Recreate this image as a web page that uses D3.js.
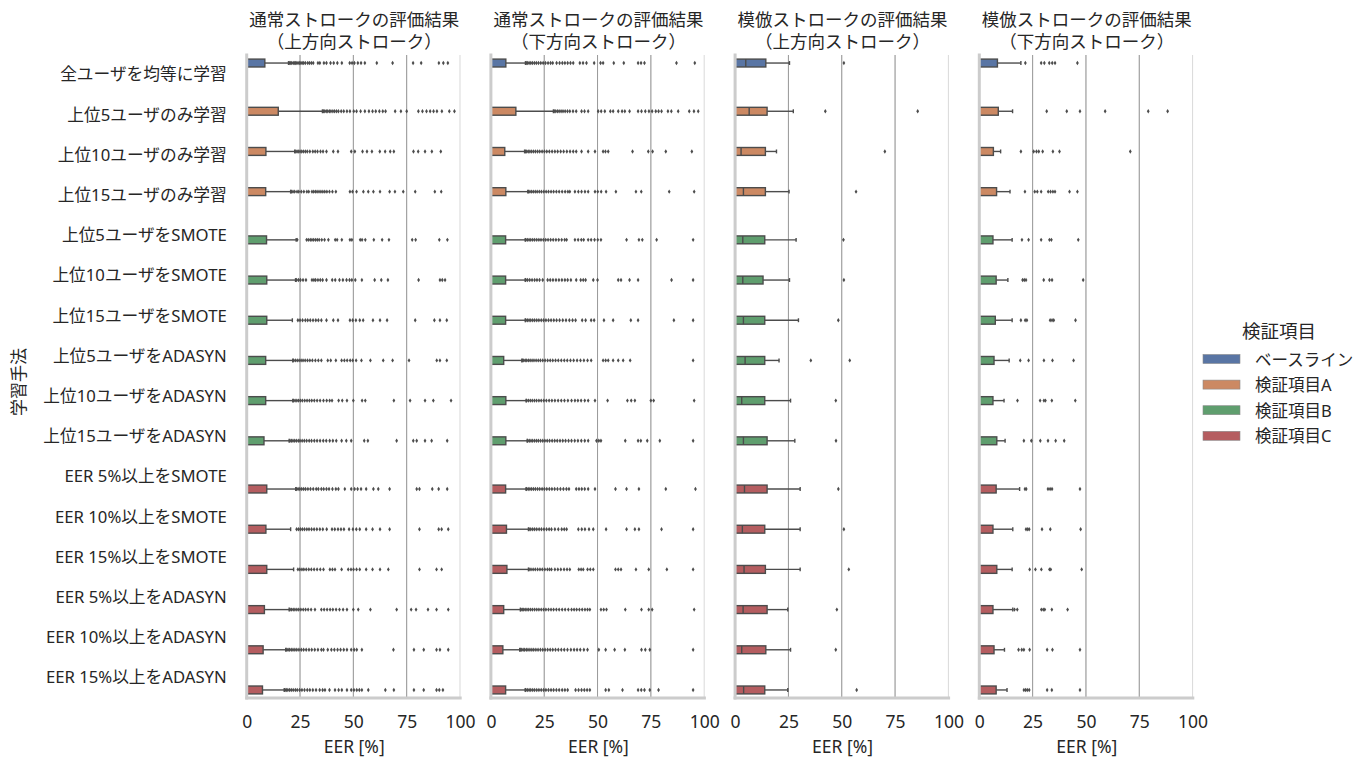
<!DOCTYPE html>
<html><head><meta charset="utf-8">
<script src="https://cdn.jsdelivr.net/npm/d3@7"></script>
<style>
body{margin:0;background:#fff}
svg{display:block}
text{font-family:"Noto Sans","Noto Sans CJK JP",sans-serif;fill:#262626}
</style>
</head><body>
<svg id="c" width="1361" height="758"></svg>
<script>
const categories = ["全ユーザを均等に学習","上位5ユーザのみ学習","上位10ユーザのみ学習","上位15ユーザのみ学習",
  "上位5ユーザをSMOTE","上位10ユーザをSMOTE","上位15ユーザをSMOTE","上位5ユーザをADASYN","上位10ユーザをADASYN","上位15ユーザをADASYN",
  "EER 5%以上をSMOTE","EER 10%以上をSMOTE","EER 15%以上をSMOTE","EER 5%以上をADASYN","EER 10%以上をADASYN","EER 15%以上をADASYN"];
const hues = ["ベースライン","検証項目A","検証項目B","検証項目C"];
const rowHue = ["ベースライン","検証項目A","検証項目A","検証項目A","検証項目B","検証項目B","検証項目B","検証項目B","検証項目B","検証項目B",
  "検証項目C","検証項目C","検証項目C","検証項目C","検証項目C","検証項目C"];
const hueColors = ["#5975a4","#cc8963","#5f9e6e","#b55d60"];
const panelTitles = [["通常ストロークの評価結果","（上方向ストローク）"],["通常ストロークの評価結果","（下方向ストローク）"],
  ["模倣ストロークの評価結果","（上方向ストローク）"],["模倣ストロークの評価結果","（下方向ストローク）"]];
const xTicks = [0,25,50,75,100];
const xLabel = "EER [%]";
const yLabel = "学習手法";
const legendTitle = "検証項目";

// Panel 1: 通常 上方向
const p1Q1 = [0,0,0,0,0,0,0,0,0,0,0,0,0,0,0,0];
const p1Med = [0,0,0,0,0,0,0,0,0,0,0,0,0,0,0,0];
const p1Q3 = [8.5,14.8,9,8.9,9.3,9.4,9.4,8.9,8.9,8.1,9.4,9,9.4,8.3,7.7,7.4];
const p1Whi = [19.6,35.5,22.5,20.6,23.2,22.9,21.4,21.6,21.6,19.9,23,20.6,22,19.9,18.3,17.6];
const p1Out = [
 [20,20.6,21.1,21.8,22.3,22.9,23.5,24.1,24.8,25.4,26,26.7,27.5,28.6,29.4,30.3,31.2,33.4,34.3,36.2,37.4,39.3,40.8,42.5,44.6,48.3,49.4,50.5,52.1,53.6,55.4,61,68.4,78,81.8,90.1,92.2,94.3],
 [36,36.6,37.3,38,38.8,39.5,40.4,41.2,42.1,43,44.3,45.5,47,48.4,50.2,51.5,53.4,55.4,57.3,59,60.5,62.2,63.8,65.1,69.6,72.3,75,80.5,82.4,84.3,86,87.6,89.2,91.5,95,97.4],
 [23,23.6,24.2,25,25.8,26.6,27.5,28.4,29.6,31,32.1,33.2,34.6,35.8,37.4,40.6,42.8,49,50.7,54.3,56.4,58.7,62.4,64.9,67.3,69,78.2,80.4,83.6,86.8,91],
 [21,21.7,22.5,23.6,24.4,25.6,26.8,28.2,29.1,30.6,31.4,32.2,33,33.9,34.8,35.7,36.6,37.6,38.8,40.2,41.8,48.4,49.6,51.5,54.7,57,59.4,62.5,67,69.5,73.4,79,88.2,91.2],
 [23.7,28.1,28.9,29.8,30.6,31.4,32.3,33.1,34,35.2,36.5,38.3,41.5,42.4,44.6,48.4,49.3,53.2,54.1,55.6,59.6,63.5,66.7,77.6,79.2,90.3,94.1],
 [23.4,24.3,25.2,26.4,27.8,30.6,31.5,32.3,33.4,34.5,35.6,37.4,40.1,41.5,43.5,45.1,46.8,48.2,49.3,50.9,54,60,63.1,66.2,80.6,90.6,91.7,93],
 [24,25,26.2,27.5,28.6,29.8,31.1,32.4,33.6,35,37.4,40.6,42.8,48.4,49.7,51.2,53,54.6,59.2,62.5,65.8,79,88,90.6,93.8],
 [22,22.8,23.7,24.6,25.5,26.4,27.4,28.5,29.6,30.8,32.2,33.6,35,38,39.4,41.8,44.5,45.8,47.1,48.5,49.7,51.3,53.8,58,64,68.4,76.1,89.1,90.6,93.8],
 [22,22.7,23.5,24.3,25.2,26.1,27.2,28.3,29.4,30.5,31.7,33,34.4,36,37.5,38.9,40,43.1,44.8,47,50,54.1,55.6,69,76.6,83.6,87.5,95.8],
 [20.3,21,21.7,22.5,23.3,24.2,25,26,27,28.1,29.3,30.4,31.7,33,34.4,35.9,37.3,38.9,40.4,42,44.5,46.7,49,55.1,56.8,70.3,78.1,79.7,83.6,86.7,94],
 [23.4,24.1,24.9,25.8,26.7,27.6,28.7,29.9,31.2,32.6,33.6,35,36.1,37.4,38.6,40.2,41.8,43,46,49,50.6,52,53.6,56,59.4,61.7,67,79.7,81,87,90,94],
 [23.4,24.3,25.2,26.1,27.1,28.2,29.2,30.4,31.6,32.9,34.3,35.7,37.5,40,41.3,42.8,44.2,45.6,48,49.8,51.4,53,56,59,62.5,67,81,90,91.4,94.5],
 [24,24.9,25.9,26.8,27.9,29.1,30.3,31.6,33,34.5,36,39,40.2,41.4,44.5,47.6,48.9,50.1,51.5,53,56,59,62.5,66.4,81,89,91.4],
 [20.3,21,21.8,22.6,23.5,24.4,25.4,26.5,27.6,28.8,30.2,32,35,36.3,37.7,39.1,40.4,41.9,43.5,45.2,47,50,52.3,58,70.3,77.1,79.4,85,89,94.5],
 [18.8,19.4,20.1,20.9,21.7,22.6,23.5,24.5,25.6,26.7,27.9,29.2,30.5,31.9,33.4,35,36,38,39.7,41.1,42.6,44,45.5,47,49,50.4,51.6,54,68.8,78.4,83,89,90.6,94.5],
 [18,18.6,19.3,20.1,20.9,21.8,22.8,23.7,24.8,25.9,27.1,28.4,29.6,31,32.5,34.2,35.6,36.7,38.8,41.4,43.1,44.6,47,49,50.3,51.6,52.8,54,57,65,69,78.4,83,89,90.3,92]
];

// Panel 2: 通常 下方向
const p2Q1 = [0,0,0,0,0,0,0,0,0,0,0,0,0,0,0,0];
const p2Med = [0,0,0,0,0,0,0,0,0,0,0,0,0,0,0,0];
const p2Q3 = [7,11.7,6.5,7,6.9,6.9,6.9,6,7,7,6.9,7.3,7.5,6,5.6,6.9];
const p2Whi = [16.2,29.3,15.8,17.3,16.1,16.1,16.1,14.5,16.5,17,16.5,17.6,17.6,13.8,13.5,16.1];
const p2Out = [
 [16.6,17.2,17.9,18.7,19.5,20.4,21.3,22.3,23.4,24.5,25.6,26.8,28,29,30.8,32.2,33.5,34.7,36,37.3,38.6,41.7,43.2,44.8,48.4,51.4,52.6,57.6,62.3,69,70.4,72,87,95.6],
 [29.7,30.4,31.2,32,32.9,33.8,34.8,35.9,37,38.5,40,42.5,43.9,45.6,50.3,51.7,53.4,56,57.3,59.7,61.5,62.8,65,69,70.6,72.4,74.1,75.6,77.3,78.6,80,83,84.6,87.8,93,95.2,97.2],
 [16.2,16.8,17.5,18.3,19.1,20,20.9,21.9,22.9,24,25.1,26.2,27.4,28.7,30,31.3,32.7,34.1,35.6,37.1,38.6,40,42.5,45.6,48.8,52.6,53.7,55,66.4,73.8,75.8,82,94.2],
 [17.6,18.3,19.1,19.9,20.8,21.7,22.7,23.7,24.8,25.9,27,28.2,29.4,30.7,32,33.4,34.8,36.1,37,39.4,41,42.5,44.1,45.6,48.8,50.1,51.7,54,58.6,68,70.5,83.6,95.3],
 [16.4,17.1,17.9,18.7,19.6,20.5,21.5,22.5,23.5,24.6,25.7,26.8,28,29.2,30.5,31.8,33.2,34.6,35.5,39.4,40.9,42.4,43.5,45.6,47,48.6,50.1,51.6,63.6,69.4,71,77.7,94.8],
 [16.4,17.2,18.2,19.3,20.5,21.6,22.8,24.3,26.6,27.8,29.1,30.5,31.9,33.3,34.7,36,37.5,40,42.1,43.3,44.4,48,50,59.7,61,65,69,84.7,94.8],
 [16.4,17.1,17.9,18.7,19.6,20.5,21.5,22.5,23.6,24.7,25.8,27,28.2,29.5,30.8,32.2,33.7,35.2,36.8,38.3,39.7,42.8,44.4,47,48.4,53,57.3,65.6,69,85.8,94.8],
 [14.8,15.4,16.1,16.8,17.6,18.4,19.3,20.2,21.2,22.2,23.2,24.3,25.4,26.6,27.8,29,30.3,31.6,33,34.4,35.8,37.3,38.8,40.4,42,43.6,45.3,47,52.6,53.8,55,57.3,59.7,62,65.3,94.8],
 [16.8,17.6,18.5,19.4,20.4,21.4,22.5,23.6,24.8,26,27.3,28.6,30,31.5,33,34.5,36.1,37.8,39.4,40.8,42.3,44,45.6,48.8,54.7,64,65.8,67.5,75,76.3,95.3],
 [17.3,18,18.8,19.6,20.5,21.4,22.3,23.3,24.3,25.3,26.4,27.5,28.7,29.9,31.1,32.4,33.7,35,36.4,37.8,39.3,40.8,42.4,44,45.6,49.5,50.6,51.6,63,69,70.3,73.3,79.2,94.8],
 [16.8,17.5,18.3,19.1,20,20.9,21.9,22.9,24,25.1,26.2,27.4,28.6,29.9,31.2,32.6,34,35.4,36.6,40,41.3,42.6,44,45.6,48.8,58.4,63.6,69.4,82,95.9],
 [17.9,18.7,19.6,20.5,21.5,22.6,23.7,24.9,26.1,27.3,28.4,30,31.6,33.2,34.4,35.5,41,42.6,44.1,46,48,54,63.6,67.5,69.4,80,94.8],
 [17.9,18.8,19.8,20.8,21.9,23,24.1,25.3,26.5,27.5,28.4,30,31.4,32.8,34.3,35.7,37,41.2,42.3,43.3,45.3,46.6,48,58.4,59.7,61,68,74,82.5,94.8],
 [14.1,14.7,15.4,16.1,16.9,17.7,18.6,19.5,20.5,21.5,22.5,23.6,24.7,25.8,27,28.2,29.4,30.7,32,33.4,34.8,36.3,37.8,39,40.2,41.5,42.8,44.1,45.3,46.4,51.6,52.9,54.2,63,70.6,74,75.6,95.3],
 [13.8,14.4,15.1,15.8,16.6,17.4,18.3,19.2,20.1,21.1,22.1,23.2,24.3,25.4,26.6,27.8,29,30.3,31.6,33,34.4,35.9,37.5,39,40.4,41.9,43.6,45.3,50.6,53.8,58,62.8,70.6,72.4,74.5,94.8],
 [16.4,17.1,17.9,18.7,19.6,20.5,21.5,22.5,23.6,24.7,25.8,27,28.2,29.4,30.7,32,33.4,34.7,36,39.7,41.1,42.5,43.8,45.1,46.4,53.8,55.3,61.7,69,70.5,72,74.5,78.6,94.8]
];

// Panel 3: 模倣 上方向
const p3Q1 = [0,0,0,0,0,0,0,0,0,0,0,0,0,0,0,0];
const p3Med = [5,6.6,2.8,3.9,3.6,3.6,3.9,4.7,3.1,3.9,4.4,3.4,4.2,3.75,3.1,4];
const p3Q3 = [14.4,15,14.2,14.2,13.9,13.1,13.9,13.9,13.9,15,15,13.9,14.2,15,14.4,13.9];
const p3Whi = [25.5,27.3,19.4,25.3,28.6,25.5,29.7,20.6,26,28,30.5,30.5,30.5,24.7,26,24.7];
const p3Out = [[51],[42.3,85.6],[70.2],[56.7],[50.8],[51],[48.4],[35.5,53.75],[47.2],[47.3],[48.4],[51],[53.3],[47.7],[47.2],[57]];

// Panel 4: 模倣 下方向
const p4Q1 = [0,0,0,0,0,0,0,0,0,0,0,0,0,0,0,0];
const p4Med = [0,0,0,0,0,0,0,0,0,0,0,0,0,0,0,0];
const p4Q3 = [8.5,8.9,6.6,8.1,6.4,7.9,7.5,6.9,6.4,8.2,7.9,6.4,8.2,6.4,6.9,7.9];
const p4Whi = [19.5,15.6,10,14.4,15.4,13.4,15.4,14,11.6,12.1,18.9,15.7,15.4,15.7,11.8,13];
const p4Out = [
 [21.6,29,30.5,32.8,34.2,35.5,46],
 [31.6,41,47.2,59,79.2,88.3],
 [19.5,25.5,26.8,27.9,29.7,34.5,37.6,70.8],
 [21.4,26,27.2,29,32.3,33.4,34.5,35.5,42.3,46],
 [20,23.1,29,32.9,33.8,46.4],
 [20.3,21.1,21.9,30.2,32.9,34.1,48.7],
 [19.5,21.5,22.3,33.2,34.1,34.9,45.1],
 [19.2,23.1,30.3,34.3,44.2],
 [17.9,28.5,30.3,31,34,45],
 [20.9,24.4,28.6,32.2,35.8,39.8],
 [21.4,22,32.2,33.2,34.1,47.2],
 [21.9,22.7,23.4,29.4,33.3,47.5],
 [23.6,26.3,29.1,32.9,33.5,48],
 [16.5,17.8,29.1,30,30.7,34,41.4],
 [18.4,19.9,20.9,23.6,31.8,34.3,47.2],
 [20.9,21.7,22.5,23.4,31.8,34,47.2]
];

const panels = [
 {q1:p1Q1, med:p1Med, q3:p1Q3, whi:p1Whi, out:p1Out},
 {q1:p2Q1, med:p2Med, q3:p2Q3, whi:p2Whi, out:p2Out},
 {q1:p3Q1, med:p3Med, q3:p3Q3, whi:p3Whi, out:p3Out},
 {q1:p4Q1, med:p4Med, q3:p4Q3, whi:p4Whi, out:p4Out}
];

const FONT = '"Noto Sans","Noto Sans CJK JP",sans-serif';
const svg = d3.select("#c");
const plotTop = 55, plotBottom = 698;
const zeroX0 = 246.7, panelStep = 244.2, panelW = 215;
const edge = "#4c4c4c";
const color = d3.scaleOrdinal().domain(hues).range(hueColors);
const y = d3.scaleBand().domain(categories).range([plotTop, plotBottom]).paddingInner(0).paddingOuter(0);
const yh = d3.scaleBand().domain(hues).range([-0.4*y.step(), 0.4*y.step()]);
const bh = yh.bandwidth()*0.98;

panels.forEach((p, pi) => {
  const g = svg.append("g").attr("transform", `translate(${zeroX0 + pi*panelStep},0)`);
  const x = d3.scaleLinear().domain([0, 100.8]).range([0, panelW]);

  // grid
  g.append("g").selectAll("line").data(xTicks).join("line")
    .attr("x1", d => x(d)).attr("x2", d => x(d)).attr("y1", plotTop).attr("y2", plotBottom)
    .attr("stroke", "#d9d9d9").attr("stroke-width", 1);
  g.append("g").selectAll("line").data(xTicks.filter(d => d > 0 && d < 100)).join("line")
    .attr("x1", d => x(d)).attr("x2", d => x(d)).attr("y1", plotTop).attr("y2", plotBottom)
    .attr("stroke", "#9a9a9a").attr("stroke-width", 1);

  const rows = categories.map((c, i) => ({c, i, hue: rowHue[i]}));
  const rg = g.append("g").selectAll("g").data(rows).join("g")
    .attr("transform", d => `translate(0,${y(d.c) + y.bandwidth()/2 + yh(d.hue) + yh.bandwidth()/2})`);

  // whiskers
  rg.append("line").attr("x1", d => x(p.q3[d.i])).attr("x2", d => x(p.whi[d.i])).attr("y1", 0).attr("y2", 0)
    .attr("stroke", edge).attr("stroke-width", 1.4);
  rg.append("line").attr("x1", d => x(p.whi[d.i])).attr("x2", d => x(p.whi[d.i])).attr("y1", -bh/4).attr("y2", bh/4)
    .attr("stroke", edge).attr("stroke-width", 1.4);
  // box
  rg.append("rect").attr("x", d => x(p.q1[d.i])).attr("width", d => x(p.q3[d.i]) - x(p.q1[d.i]))
    .attr("y", -bh/2).attr("height", bh)
    .attr("fill", d => color(d.hue)).attr("stroke", edge).attr("stroke-width", 1.4);
  // median
  rg.append("line").attr("x1", d => x(p.med[d.i])).attr("x2", d => x(p.med[d.i])).attr("y1", -bh/2).attr("y2", bh/2)
    .attr("stroke", edge).attr("stroke-width", 1.4);
  // fliers
  rg.selectAll("path.f").data(d => p.out[d.i]).join("path").attr("class", "f")
    .attr("d", d => `M${x(d)},-2.2L${x(d)+1.4},0L${x(d)},2.2L${x(d)-1.4},0Z`)
    .attr("fill", edge);

  // spines
  g.append("line").attr("x1", 0).attr("x2", 0).attr("y1", plotTop - 1.5).attr("y2", plotBottom + 1.5)
    .attr("stroke", "#cccccc").attr("stroke-width", 3);
  g.append("line").attr("x1", -1.5).attr("x2", panelW).attr("y1", plotBottom).attr("y2", plotBottom)
    .attr("stroke", "#cccccc").attr("stroke-width", 3);

  // x axis
  const ax = g.append("g").attr("transform", `translate(0,${plotBottom})`)
    .call(d3.axisBottom(x).tickValues(xTicks).tickSize(0).tickPadding(17.5));
  ax.select(".domain").remove();
  ax.selectAll("text").style("font-size", "17.5px").attr("fill", "#262626").style("font-family", FONT);
  g.append("text").attr("x", panelW/2).attr("y", 752.5).attr("text-anchor", "middle")
    .style("font-size", "17.5px").text(xLabel);

  // titles
  panelTitles[pi].forEach((t, k) => {
    g.append("text").attr("x", panelW/2).attr("y", 19 + k*22).attr("text-anchor", "middle")
      .attr("dominant-baseline", "central").style("font-size", "17.5px").text(t);
  });

  if (pi === 0) {
    const ay = g.append("g").call(d3.axisLeft(y).tickSize(0).tickPadding(20));
    ay.select(".domain").remove();
    ay.selectAll("text").style("font-size", "16.7px").attr("fill", "#262626").style("font-family", FONT);
  }
});

// y label
svg.append("text").attr("transform", "translate(18,382) rotate(-90)").attr("text-anchor", "middle")
  .attr("dominant-baseline", "central").style("font-size", "17px").text(yLabel);

// legend
const lg = svg.append("g");
lg.append("text").attr("x", 1279).attr("y", 330).attr("text-anchor", "middle").attr("dominant-baseline", "central")
  .style("font-size", "18.5px").text(legendTitle);
const li = lg.selectAll("g.li").data(hues).join("g").attr("class", "li")
  .attr("transform", (d, i) => `translate(0,${359 + i*25.6})`);
li.append("rect").attr("x", 1203).attr("y", -4.5).attr("width", 37).attr("height", 9)
  .attr("fill", d => color(d)).attr("stroke", "#8a8a8a").attr("stroke-width", 0.6);
li.append("text").attr("x", 1255).attr("y", 0).attr("dominant-baseline", "central")
  .style("font-size", "16.5px").text(d => d);
</script>
</body></html>
